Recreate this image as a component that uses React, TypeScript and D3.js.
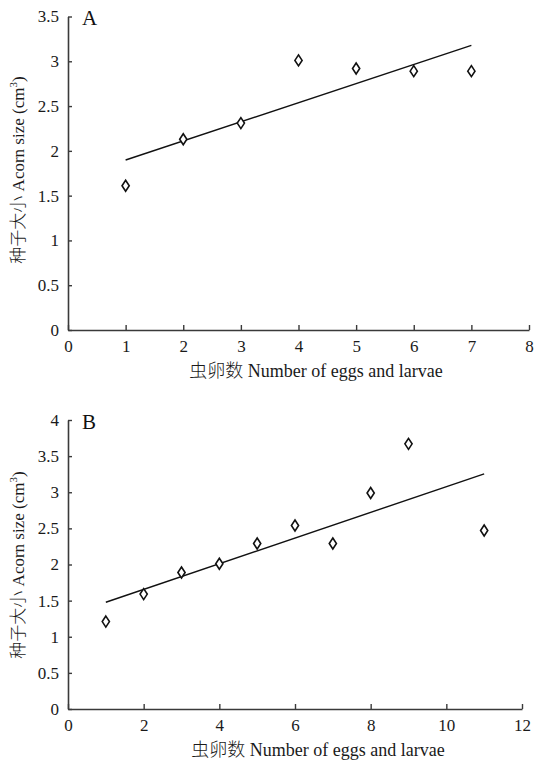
import React, { useEffect, useRef } from "react";
import * as d3 from "d3";

// Panel A: acorn size by number of eggs and larvae (1-7)
const eggsA = [1, 2, 3, 4, 5, 6, 7];
const sizeA = [1.61, 2.13, 2.31, 3.01, 2.92, 2.89, 2.89];
const xTicksA = [0, 1, 2, 3, 4, 5, 6, 7, 8];
const yTicksA = [0, 0.5, 1, 1.5, 2, 2.5, 3, 3.5];

// Panel B
const eggsB = [1, 2, 3, 4, 5, 6, 7, 8, 9, 11];
const sizeB = [1.21, 1.59, 1.89, 2.01, 2.29, 2.54, 2.29, 2.99, 3.67, 2.47];
const xTicksB = [0, 2, 4, 6, 8, 10, 12];
const yTicksB = [0, 0.5, 1, 1.5, 2, 2.5, 3, 3.5, 4];

const xTitleCn = "虫卵数";
const xTitleEn = " Number of eggs and larvae";
const yTitleCn = "种子大小";
const yTitleEn = " Acorn size (cm";

const SERIF = "Liberation Serif, DejaVu Serif, serif";
const CJK = "Noto Sans CJK SC";

function linreg(xs: number[], ys: number[]) {
    const mx = d3.mean(xs) as number;
    const my = d3.mean(ys) as number;
    const sxy = d3.sum(xs, (x, i) => (x - mx) * (ys[i] - my));
    const sxx = d3.sum(xs, x => (x - mx) * (x - mx));
    const slope = sxy / sxx;
    return (x: number) => my + slope * (x - mx);
}

function drawPanel(svg: any, opts: any) {
    const { label, xs, ys, xTicks, yTicks, xDomain, yDomain, xRange, yRange, labelY, titleX, titleY, yTitleY } = opts;

    const xScale = d3.scaleLinear().domain(xDomain).range(xRange);
    const yScale = d3.scaleLinear().domain(yDomain).range(yRange);

    const g = svg.append("g");

    // x axis, ticks pointing inward
    const xAxis = g.append("g")
        .attr("transform", `translate(0,${yRange[0]})`)
        .call(d3.axisBottom(xScale).tickValues(xTicks).tickSizeInner(-5).tickSizeOuter(0).tickPadding(10).tickFormat((d: any) => String(d)));

    const yAxis = g.append("g")
        .attr("transform", `translate(${xRange[0]},0)`)
        .call(d3.axisLeft(yScale).tickValues(yTicks).tickSizeInner(-4).tickSizeOuter(0).tickPadding(9).tickFormat((d: any) => String(d)));

    [xAxis, yAxis].forEach(ax => {
        ax.attr("font-family", SERIF).attr("font-size", 17);
        ax.select(".domain").attr("stroke", "#3a3a3a").attr("stroke-width", 1.6);
        ax.selectAll(".tick line").attr("stroke", "#3a3a3a").attr("stroke-width", 1.4);
        ax.selectAll(".tick text").attr("fill", "#1a1a1a");
    });

    // regression line over the data range
    const fit = linreg(xs, ys);
    const x0 = d3.min(xs) as number;
    const x1 = d3.max(xs) as number;
    g.append("line")
        .attr("x1", xScale(x0))
        .attr("y1", yScale(fit(x0)))
        .attr("x2", xScale(x1))
        .attr("y2", yScale(fit(x1)))
        .attr("stroke", "#111")
        .attr("stroke-width", 1.4);

    // diamond markers
    g.selectAll("path.pt")
        .data(xs.map((x: number, i: number) => [x, ys[i]]))
        .enter()
        .append("path")
        .attr("class", "pt")
        .attr("d", (d: number[]) => {
            const cx = xScale(d[0]);
            const cy = yScale(d[1]);
            return `M${cx},${cy - 5.5}L${cx + 3.6},${cy}L${cx},${cy + 5.5}L${cx - 3.6},${cy}Z`;
        })
        .attr("fill", "#fff")
        .attr("stroke", "#111")
        .attr("stroke-width", 1.6);

    // panel letter
    g.append("text")
        .attr("x", xRange[0] + 14)
        .attr("y", labelY)
        .attr("fill", "#111")
        .attr("font-family", SERIF)
        .attr("font-size", 21)
        .text(label);

    // axis titles
    const xt = g.append("text")
        .attr("x", titleX)
        .attr("y", titleY)
        .attr("text-anchor", "middle")
        .attr("fill", "#1a1a1a")
        .attr("font-family", SERIF)
        .attr("font-size", 18);
    xt.append("tspan").attr("font-family", CJK).attr("font-weight", 300).text(xTitleCn);
    xt.append("tspan").text(xTitleEn);

    const yt = g.append("text")
        .attr("transform", `translate(24,${yTitleY}) rotate(-90)`)
        .attr("text-anchor", "middle")
        .attr("fill", "#1a1a1a")
        .attr("font-family", SERIF)
        .attr("font-size", 17);
    yt.append("tspan").attr("font-family", CJK).attr("font-weight", 300).text(yTitleCn);
    yt.append("tspan").text(yTitleEn);
    yt.append("tspan").attr("font-size", 11).attr("dy", -7).text("3");
    yt.append("tspan").attr("dy", 7).text(")");
}

function App() {
    const svgRef = useRef<SVGSVGElement>(null);

    useEffect(() => {
        const svg = d3.select(svgRef.current)
            .attr("width", 537)
            .attr("height", 762);

        svg.selectAll("*").remove();

        svg.append("rect").attr("width", 537).attr("height", 762).attr("fill", "#fff");

        drawPanel(svg, {
            label: "A", xs: eggsA, ys: sizeA, xTicks: xTicksA, yTicks: yTicksA,
            xDomain: [0, 8], yDomain: [0, 3.5], xRange: [68, 529], yRange: [330, 16.5],
            labelY: 25, titleX: 316, titleY: 377, yTitleY: 170
        });

        drawPanel(svg, {
            label: "B", xs: eggsB, ys: sizeB, xTicks: xTicksB, yTicks: yTicksB,
            xDomain: [0, 12], yDomain: [0, 4], xRange: [68, 522], yRange: [709, 420],
            labelY: 429, titleX: 318, titleY: 756, yTitleY: 565
        });
    }, []);

    return <svg ref={svgRef} style={{ position: "absolute", left: 0, top: 0, display: "block" }}></svg>;
}

export default App;
